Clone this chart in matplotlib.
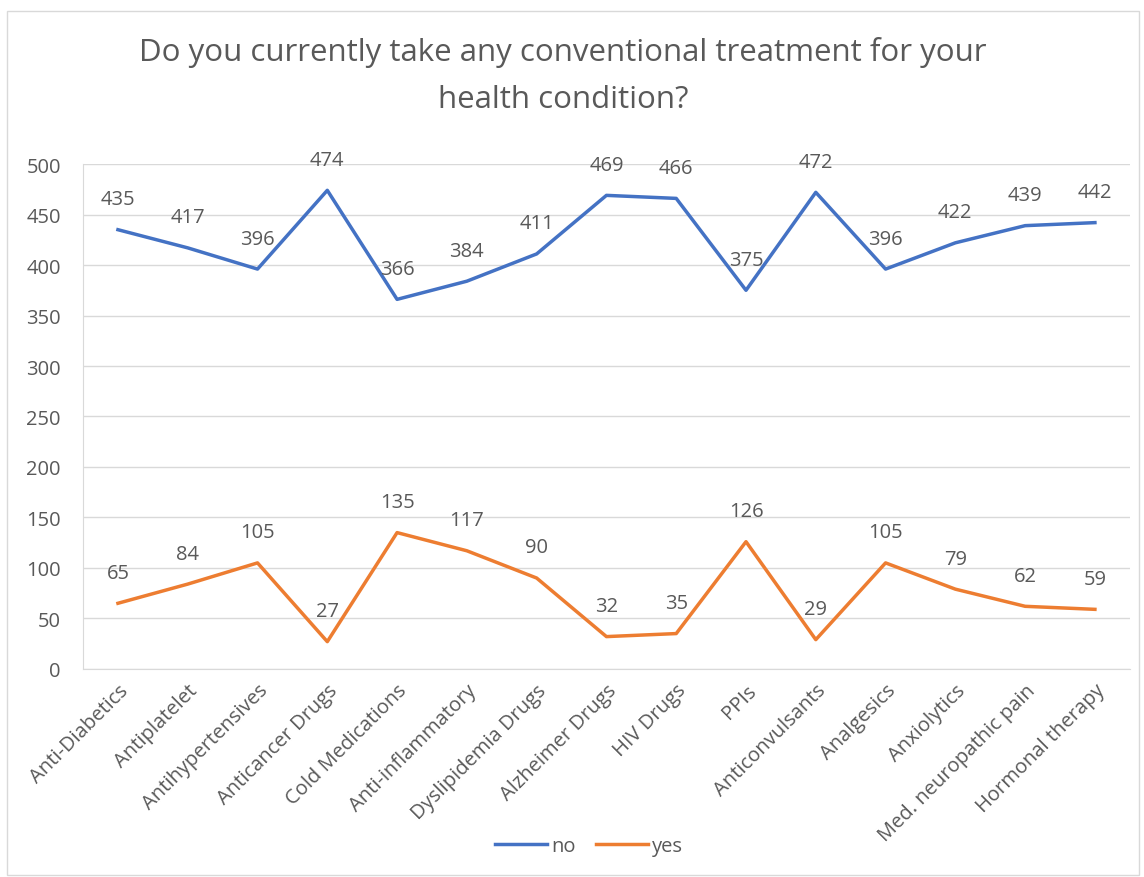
import matplotlib
matplotlib.use("Agg")
import matplotlib.pyplot as plt
from matplotlib.patches import Rectangle

plt.rcParams['font.family'] = ['Open Sans', 'DejaVu Sans']

categories = ['Anti-Diabetics', 'Antiplatelet', 'Antihypertensives', 'Anticancer Drugs',
              'Cold Medications', 'Anti-inflammatory', 'Dyslipidemia Drugs', 'Alzheimer Drugs',
              'HIV Drugs', 'PPIs', 'Anticonvulsants', 'Analgesics', 'Anxiolytics',
              'Med. neuropathic pain', 'Hormonal therapy']
no_vals = [435, 417, 396, 474, 366, 384, 411, 469, 466, 375, 472, 396, 422, 439, 442]
yes_vals = [65, 84, 105, 27, 135, 117, 90, 32, 35, 126, 29, 105, 79, 62, 59]

BLUE = '#4472C4'
ORANGE = '#ED7D31'
TEXT = '#595959'
FS = 14.5

fig = plt.figure(figsize=(11.44, 8.78), dpi=100)
ax = fig.add_axes([0.0726, 0.237, 0.915, 0.575])

x = list(range(len(categories)))
ax.plot(x, no_vals, color=BLUE, lw=2.5, label='no')
ax.plot(x, yes_vals, color=ORANGE, lw=2.5, label='yes')

for xi, v in zip(x, no_vals):
    ax.annotate(str(v), (xi, v), xytext=(0, 22), textcoords='offset points',
                ha='center', va='center', fontsize=FS, color=TEXT)
for xi, v in zip(x, yes_vals):
    ax.annotate(str(v), (xi, v), xytext=(0, 22), textcoords='offset points',
                ha='center', va='center', fontsize=FS, color=TEXT)

ax.set_xlim(-0.5, len(categories) - 0.5)
ax.set_ylim(0, 500)
ax.set_yticks(range(0, 501, 50))
ax.grid(axis='y', color='#D9D9D9', lw=1)
ax.set_axisbelow(True)
for s in ['top', 'right']:
    ax.spines[s].set_visible(False)
ax.spines['bottom'].set_color('#D9D9D9')
ax.spines['left'].set_color('#D9D9D9')
ax.tick_params(axis='y', length=0, labelsize=FS, labelcolor=TEXT, pad=16)
ax.tick_params(axis='x', length=0, labelsize=FS, labelcolor=TEXT, pad=8)
ax.set_xticks(x)
ax.set_xticklabels(categories, rotation=45, ha='right', rotation_mode='anchor')

fig.text(0.492, 0.94, 'Do you currently take any conventional treatment for your',
         ha='center', va='center', fontsize=22.5, color=TEXT)
fig.text(0.492, 0.886, 'health condition?', ha='center', va='center', fontsize=22.5, color=TEXT)

fig.legend(loc='center', bbox_to_anchor=(0.515, 0.035), ncol=2, frameon=False,
           fontsize=FS, handlelength=2.6, handletextpad=0.2, columnspacing=1.0,
           labelcolor=TEXT)

fig.patches.append(Rectangle((0.006, 0.002), 0.99, 0.984, transform=fig.transFigure,
                             fill=False, edgecolor='#D9D9D9', lw=1))

fig.savefig('out.png', dpi=100)
